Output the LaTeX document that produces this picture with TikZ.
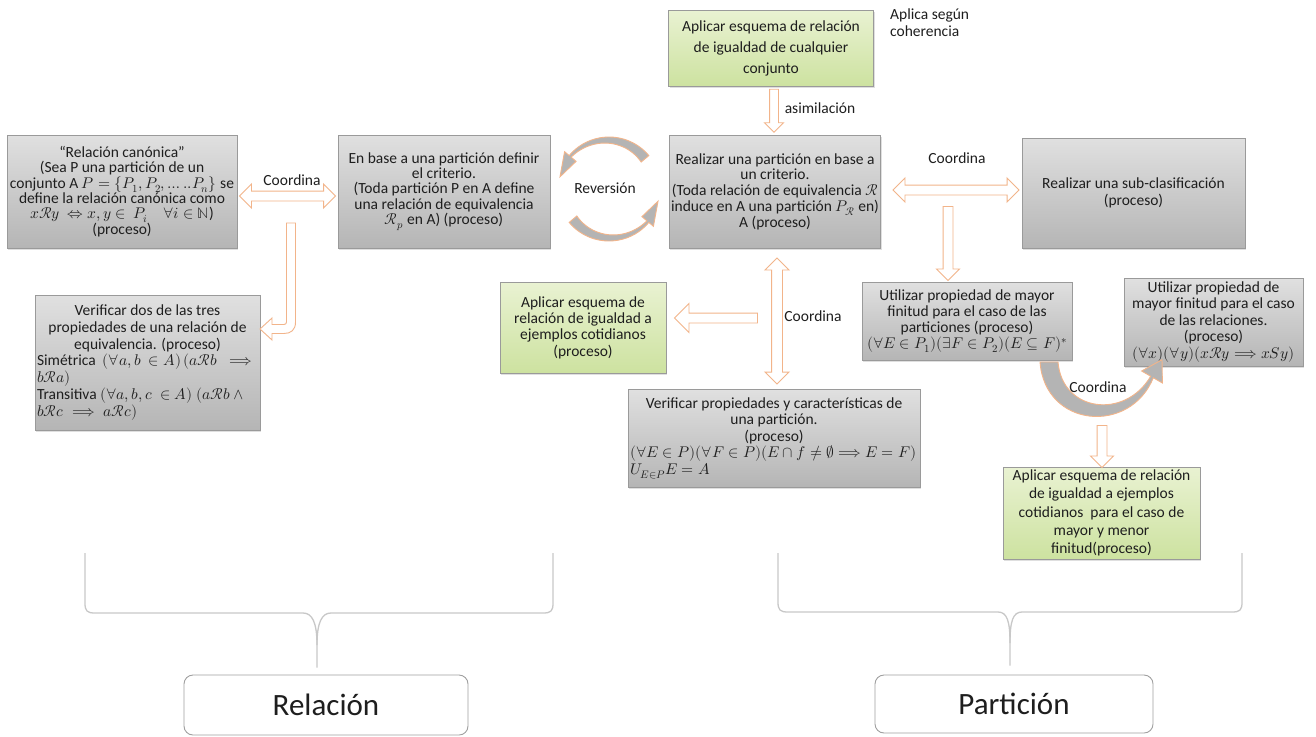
\documentclass[tikz,border=0pt]{standalone}
\usepackage{fontspec}
\usepackage{unicode-math}
\setmainfont{Carlito}
\usetikzlibrary{shapes.arrows,shadows,calc}

\definecolor{txt}{HTML}{1E1E1E}
\definecolor{boxline}{HTML}{9A9A9A}
\definecolor{graytop}{HTML}{E0E0E0}
\definecolor{graybot}{HTML}{B5B5B5}
\definecolor{greentop}{HTML}{E9F2D2}
\definecolor{greenbot}{HTML}{CDE2A0}
\definecolor{arrowline}{HTML}{F2B48A}
\definecolor{bracecol}{HTML}{C8C8C8}
\definecolor{bandfill}{HTML}{B4B4B4}

\begin{document}
\begin{tikzpicture}[x=1pt,y=-1pt,
  every node/.style={text=txt},
  basebox/.style={font=\fontsize{15.5}{16.3}\selectfont, align=center, inner sep=2pt,
    draw=boxline, line width=0.8pt,
    drop shadow={opacity=0.25,shadow xshift=1pt,shadow yshift=-1.5pt}},
  graybox/.style={basebox, top color=graytop, bottom color=graybot},
  greenbox/.style={basebox, top color=greentop, bottom color=greenbot},
  lbl/.style={font=\fontsize{15.5}{17}\selectfont, inner sep=1pt},
  topicbox/.style={draw=gray!75, line width=0.9pt, rounded corners=9pt, fill=white,
    font=\fontsize{31}{31}\selectfont},
  bracepath/.style={draw=bracecol, line width=1.3pt},
  blockline/.style={draw=arrowline, line width=0.9pt},
  sarrow/.style={blockline, fill=white, shape=single arrow, inner sep=4.5pt,
    single arrow head extend=7pt, single arrow head indent=0pt, minimum width=0pt},
  darrow/.style={blockline, fill=white, shape=double arrow, inner sep=4.5pt,
    double arrow head extend=7pt, double arrow head indent=0pt, minimum width=0pt},
  bandarrow/.style={blockline, fill=bandfill}
]
\fill[white] (0,0) rectangle (1316,736);
\useasboundingbox (0,0) rectangle (1316,736);

% ---------- process boxes ----------
\node[graybox, font=\fontsize{15.5}{15.3}\selectfont, minimum width=230pt, minimum height=113pt] (canon) at (122,191.5)
  {“Relación canónica”\\(Sea P una partición de un\\conjunto A $P=\{P_1,P_2,\ldots..P_n\}$ se\\define la relación canónica como\\$x\mathcal{R}y\ \Leftrightarrow x,y\in\ P_i\quad\forall i\in\mathbb{N}$)\\(proceso)};

\node[graybox, font=\fontsize{15.5}{15.3}\selectfont, minimum width=212pt, minimum height=113pt] (criterio) at (444,191.5)
  {En base a una partición definir\\el criterio.\\(Toda partición P en A define\\una relación de equivalencia\\$\mathcal{R}_p$ en A) (proceso)};

\node[graybox, font=\fontsize{15.5}{15.8}\selectfont, minimum width=204pt, minimum height=113pt] (particion) at (775,191.5)
  {Realizar una partición en base a\\un criterio.\\(Toda relación de equivalencia $\mathcal{R}$\\induce en A una partición $P_{\mathcal{R}}$ en)\\A (proceso)};

\node[graybox, minimum width=223pt, minimum height=110pt] (subclas) at (1133.5,193)
  {Realizar una sub-clasificación\\(proceso)};

\node[greenbox, font=\fontsize{15.5}{21}\selectfont, minimum width=205pt, minimum height=76pt] (cualquier) at (771,48)
  {Aplicar esquema de relación\\de igualdad de cualquier\\conjunto};

\node[lbl, anchor=north west, align=left] (aplica) at (889,8) {Aplica según\\coherencia};

\node[graybox, font=\fontsize{15.5}{16.7}\selectfont, minimum width=225pt, minimum height=135pt] (dosprop) at (147.5,362.5)
  {\parbox{221pt}{\centering Verificar dos de las tres\\propiedades de una relación de\\equivalencia. (proceso)\par
   \raggedright Simétrica\ \ $(\forall a,b\ \in A)\,(a\mathcal{R}b\ \implies$\\$b\mathcal{R}a)$\\
   Transitiva $(\forall a,b,c\ \in A)\ (a\mathcal{R}b\ \wedge$\\$b\mathcal{R}c\implies a\mathcal{R}c)$}};

\node[greenbox, minimum width=166pt, minimum height=91pt] (cotidianos) at (583,327.5)
  {Aplicar esquema de\\relación de igualdad a\\ejemplos cotidianos\\(proceso)};

\node[graybox, font=\fontsize{15.5}{16.5}\selectfont, minimum width=292pt, minimum height=98pt] (verifpart) at (774,438)
  {\parbox{288pt}{\centering Verificar propiedades y características de\\una partición.\\(proceso)\par
   \raggedright $(\forall E\in P)(\forall F\in P)(E\cap f\neq\emptyset\Longrightarrow E=F)$\\$U_{E\in P}E=A$}};

\node[graybox, minimum width=210pt, minimum height=78pt] (finpart) at (967,321)
  {Utilizar propiedad de mayor\\finitud para el caso de las\\particiones (proceso)\\$(\forall E\in P_1)(\exists F\in P_2)(E\subseteq F)^{*}$};

\node[graybox, font=\fontsize{15.5}{16.5}\selectfont, minimum width=179pt, minimum height=88pt] (finrel) at (1213.5,322)
  {Utilizar propiedad de\\mayor finitud para el caso\\de las relaciones.\\(proceso)\\$(\forall x)(\forall y)(x\mathcal{R}y\Longrightarrow xSy)$};

\node[greenbox, font=\fontsize{15.5}{18.3}\selectfont, minimum width=197pt, minimum height=92pt] (mayormenor) at (1101.5,513)
  {Aplicar esquema de relación\\de igualdad a ejemplos\\cotidianos\ \ para el caso de\\mayor y menor\\finitud(proceso)};

% ---------- topic boxes ----------
\node[topicbox, minimum width=284pt, minimum height=60pt] (relacion) at (326,705) {Relación};
\node[topicbox, minimum width=278pt, minimum height=58pt] (particionT) at (1014,704) {Partición};

% ---------- braces ----------
\draw[bracepath] (85,553) -- (85,603) .. controls (85,611) and (87,613) .. (95,613) -- (303,613)
  .. controls (312,613) and (317,622) .. (317,645) -- ($(relacion.north)+(-9,-7)$);
\draw[bracepath] (317,645) .. controls (317,622) and (322,613) .. (331,613) -- (543,613)
  .. controls (551,613) and (553,611) .. (553,603) -- (553,553);
\draw[bracepath] (778,553) -- (778,602) .. controls (778,610) and (780,612) .. (788,612) -- (998,612)
  .. controls (1007,612) and (1010,621) .. (1010,643) -- ($(particionT.north)+(-4,-9)$);
\draw[bracepath] (1010,643) .. controls (1010,621) and (1013,612) .. (1022,612) -- (1232,612)
  .. controls (1240,612) and (1242,610) .. (1242,602) -- (1242,553);

% ---------- straight block arrows ----------
\node[darrow, minimum height=96pt] (coordA) at ($(canon.east)!.5!(criterio.west)+(0,4.5)$) {};
\node[lbl] (coordAl) at (292,180) {Coordina};

\node[darrow, minimum height=126pt] (coordB) at (956,190) {};
\node[lbl] (coordBl) at (957,158) {Coordina};

\node[sarrow, rotate=-90, minimum height=43pt, inner sep=4pt, single arrow head extend=5pt]
  (asimA) at (774,108.5) {};
\node[lbl] (asim) at (820,108) {asimilación};

\node[sarrow, rotate=-90, minimum height=74pt, single arrow head extend=6.5pt] (downA) at (948,241) {};

\node[darrow, rotate=-90, minimum height=126pt, inner sep=5pt, double arrow head extend=6.5pt] (coordC) at (777,321) {};
\node[lbl] (coordCl) at (813,316) {Coordina};

\node[sarrow, rotate=180, minimum height=83pt, single arrow head extend=9.5pt] (leftA) at (718.5,318) {};

\node[sarrow, rotate=-90, minimum height=42pt, single arrow head extend=6.5pt] (downB) at (1102,444) {};

% ---------- bent arrow towards the property check ----------
\path[blockline, fill=white] (286.5,223) -- (295.5,223) -- (295.5,322)
  .. controls (295.5,330) and (291,333.5) .. (284,333.5) -- (272,333.5) -- (272,340)
  -- (260,329) -- (272,318) -- (272,324.5) -- (284,324.5)
  .. controls (285.5,324.5) and (286.5,323.5) .. (286.5,322) -- cycle;

% ---------- circular arrows (Reversión) ----------
\begin{scope}[shift={(609,189)}, yscale=-1]
  \path[bandarrow] (40:42) -- (40:52) arc[start angle=40, end angle=140, radius=52]
    -- (140:58) -- (166:50.5) -- (140:43) -- (140:49.5)
    -- plot[domain=140:40, samples=30] (\x:{42+7.5*(\x-40)/100}) -- cycle;
  \begin{scope}[rotate=180]
  \path[bandarrow] (40:42) -- (40:52) arc[start angle=40, end angle=140, radius=52]
    -- (140:58) -- (166:50.5) -- (140:43) -- (140:49.5)
    -- plot[domain=140:40, samples=30] (\x:{42+7.5*(\x-40)/100}) -- cycle;
  \end{scope}
\end{scope}
\node[lbl] (rev) at (605,188) {Reversión};

% ---------- curved arrow between the two finiteness boxes ----------
\path[bandarrow] (1040,362) .. controls (1045,428) and (1130,435) .. (1153.3,377.75)
  -- (1162.4,383) -- (1162,359.7) -- (1141.6,371) -- (1150.7,376.25)
  .. controls (1125,420) and (1062,412) .. (1058,362) -- cycle;
\node[lbl] (coordDl) at (1098,387) {Coordina};

\end{tikzpicture}
\end{document}
